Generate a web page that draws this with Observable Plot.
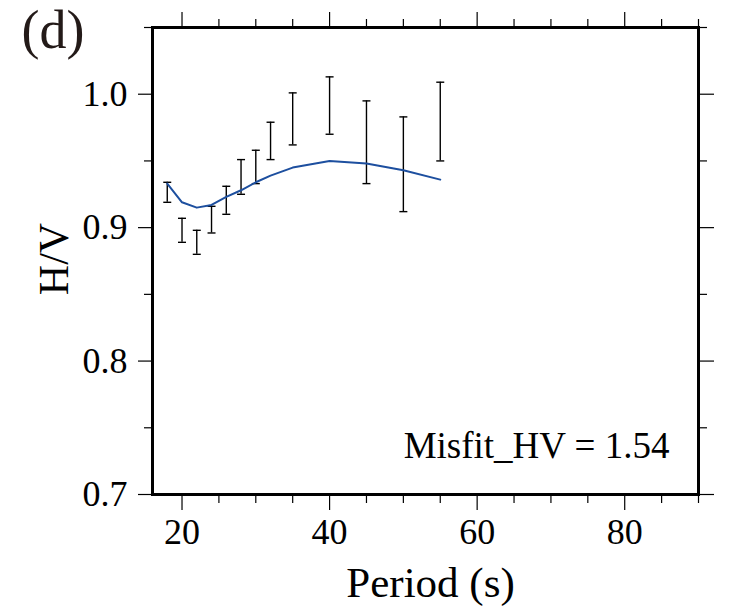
<!DOCTYPE html>
<html>
<head>
<meta charset="utf-8">
<script src="https://cdn.jsdelivr.net/npm/d3@7"></script>
<script src="https://cdn.jsdelivr.net/npm/@observablehq/plot@0.6"></script>
<style>
  html, body { margin: 0; padding: 0; background: #fff; }
  #chart { width: 732px; height: 610px; }
</style>
</head>
<body>
<div id="chart"></div>
<script>
// Periods (s)
const periods = [18, 20, 22, 24, 26, 28, 30, 32, 35, 40, 45, 50, 55];
// Observed H/V error bars (upper and lower bounds)
const hvUpper = [0.934, 0.907, 0.898, 0.916, 0.931, 0.951, 0.958, 0.979, 1.001, 1.013, 0.995, 0.983, 1.009];
const hvLower = [0.919, 0.889, 0.880, 0.896, 0.910, 0.925, 0.933, 0.951, 0.962, 0.970, 0.933, 0.912, 0.950];
// Model H/V curve
const hvModel = [0.933, 0.919, 0.915, 0.917, 0.923, 0.928, 0.934, 0.939, 0.945, 0.950, 0.948, 0.943, 0.936];

const xMajor = [20, 40, 60, 80];
const xMinor = [25, 30, 35, 45, 50, 55, 65, 70, 75, 85, 90];
const yMajor = [0.7, 0.8, 0.9, 1.0];
const yMinor = [0.75, 0.85, 0.95, 1.05];

const panelLabel = "(d)";
const xLabel = "Period (s)";
const yLabel = "H/V";
const misfitText = "Misfit_HV = 1.54";

const data = periods.map((p, i) => ({period: p, upper: hvUpper[i], lower: hvLower[i], model: hvModel[i]}));

const capSymbol = {
  draw(ctx, size) {
    const r = Math.sqrt(size / Math.PI);
    ctx.moveTo(-r, 0);
    ctx.lineTo(r, 0);
  }
};

const noLabel = () => "";

const chart = Plot.plot({
  width: 732,
  height: 610,
  marginLeft: 152,
  marginRight: 34,
  marginTop: 27,
  marginBottom: 116,
  style: {fontFamily: "'Liberation Serif', 'Times New Roman', serif", fontSize: "36px", color: "#000", background: "#fff"},
  x: {domain: [16, 90]},
  y: {domain: [0.7, 1.05]},
  marks: [
    // bottom axis
    Plot.axisX({anchor: "bottom", ticks: xMajor, tickSize: 16, tickPadding: 8, tickFormat: d => String(d), label: null, fontSize: 36, strokeWidth: 1.2}),
    Plot.axisX({anchor: "bottom", ticks: xMinor, tickSize: 9, tickFormat: noLabel, label: null, strokeWidth: 1.2}),
    // top axis
    Plot.axisX({anchor: "top", ticks: xMajor, tickSize: 16, tickFormat: noLabel, label: null, strokeWidth: 1.2}),
    Plot.axisX({anchor: "top", ticks: xMinor, tickSize: 9, tickFormat: noLabel, label: null, strokeWidth: 1.2}),
    // left axis
    Plot.axisY({anchor: "left", ticks: yMajor, tickSize: 14, tickPadding: 11, tickFormat: d3.format(".1f"), label: null, fontSize: 36, strokeWidth: 1.2}),
    Plot.axisY({anchor: "left", ticks: yMinor, tickSize: 8, tickFormat: noLabel, label: null, strokeWidth: 1.2}),
    // right axis
    Plot.axisY({anchor: "right", ticks: yMajor, tickSize: 15, tickFormat: noLabel, label: null, strokeWidth: 1.2}),
    Plot.axisY({anchor: "right", ticks: yMinor, tickSize: 8, tickFormat: noLabel, label: null, strokeWidth: 1.2}),
    // error bars
    Plot.ruleX(data, {x: "period", y1: "lower", y2: "upper", stroke: "#000", strokeWidth: 1.4}),
    Plot.dot(data, {x: "period", y: "upper", symbol: capSymbol, r: 4, stroke: "#000", strokeWidth: 1.4, fill: "none"}),
    Plot.dot(data, {x: "period", y: "lower", symbol: capSymbol, r: 4, stroke: "#000", strokeWidth: 1.4, fill: "none"}),
    // model curve
    Plot.line(data, {x: "period", y: "model", stroke: "#1d4f9f", strokeWidth: 2}),
    // frame
    Plot.frame({stroke: "#000", strokeWidth: 3}),
    // texts
    Plot.text([panelLabel], {frameAnchor: "top-left", text: d => d, textAnchor: "start", lineAnchor: "bottom", dx: -131, dy: 20, fontSize: 54, fill: "#231a18"}),
    Plot.text([yLabel], {frameAnchor: "left", text: d => d, rotate: -90, textAnchor: "middle", lineAnchor: "bottom", dx: -85, dy: -2, fontSize: 42, fill: "#000"}),
    Plot.text([xLabel], {frameAnchor: "bottom", text: d => d, textAnchor: "middle", lineAnchor: "bottom", dx: 5, dy: 102, fontSize: 43, fill: "#000"}),
    Plot.text([misfitText], {frameAnchor: "bottom-right", text: d => d, textAnchor: "end", lineAnchor: "bottom", dx: -29, dy: -37, fontSize: 37, fill: "#000"})
  ]
});

document.getElementById("chart").appendChild(chart);
</script>
</body>
</html>
